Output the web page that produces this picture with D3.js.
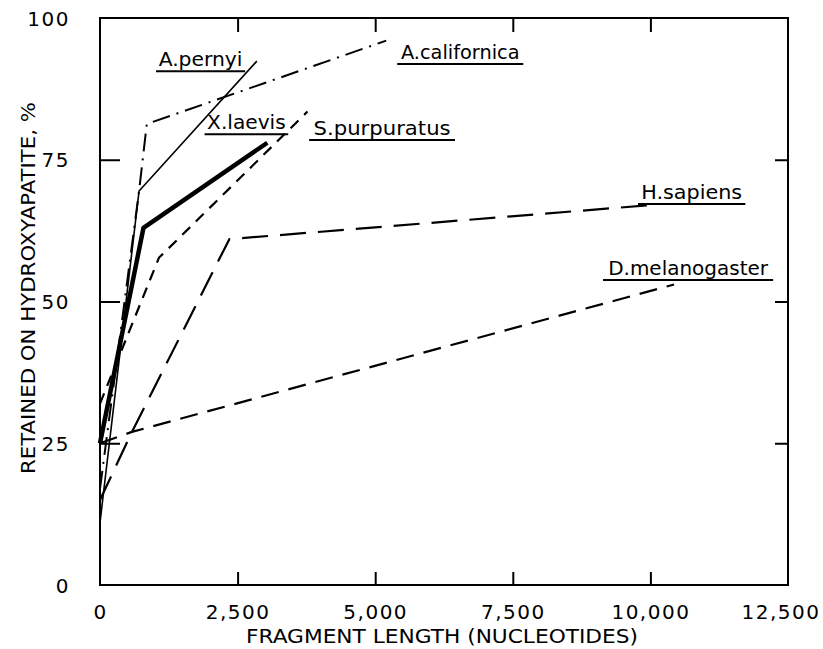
<!DOCTYPE html>
<html><head><meta charset="utf-8">
<script src="https://cdn.jsdelivr.net/npm/d3@7"></script>
<style>body{margin:0;background:#fff}svg{display:block}</style>
</head><body>
<script>
// ---- data ----
const seriesNames = ["A.pernyi","A.californica","X.laevis","S.purpuratus","H.sapiens","D.melanogaster"];
const aPernyi      = [[0,11],[710,69.5],[2850,92.4]];
const aCalifornica = [[0,17],[710,69.5],[850,81.3],[5200,96]];
const xLaevis      = [[0,25],[790,63],[3040,78]];
const sPurpuratus  = [[0,32],[1070,57.7],[3770,83.5]];
const hSapiens     = [[0,15],[580,27],[2350,61],[10000,67]];
const dMelanogaster= [[0,25],[580,27],[10430,53]];
const xTicks = [0,2500,5000,7500,10000,12500];
const xTickLabels = ["0","2,500","5,000","7,500","10,000","12,500"];
const yTicks = [0,25,50,75,100];
const yTickLabels = ["0","25","50","75","100"];
// label anchor in data coords (left end of underline) and underline length in data units
const labelPos = [[1017,90.6],[5400,91.9],[1900,79.5],[3800,78.5],[9775,67.2],[9140,53.8]];
const labelLen = [1620,2290,1520,2650,1950,3090];

const W=823,H=649;
const svg=d3.select("body").append("svg").attr("width",W).attr("height",H);
const x=d3.scaleLinear().domain([0,12500]).range([100,788]);
const y=d3.scaleLinear().domain([0,100]).range([585,18]);

const font="'DejaVu Sans', sans-serif";
// frame
svg.append("rect").attr("x",x(0)).attr("y",y(100)).attr("width",x(12500)-x(0)).attr("height",y(0)-y(100))
  .attr("fill","none").attr("stroke","#000").attr("stroke-width",2);

// axes
const axB=d3.axisBottom(x).tickValues(xTicks).tickSize(-13).tickFormat((d,i)=>xTickLabels[i]).tickPadding(20);
const gB=svg.append("g").attr("transform",`translate(0,${y(0)})`).call(axB);
const axT=d3.axisTop(x).tickValues(xTicks.slice(1,-1)).tickSize(-14).tickFormat("");
const gT=svg.append("g").attr("transform",`translate(0,${y(100)})`).call(axT);
const axL=d3.axisLeft(y).tickValues(yTicks).tickSize(-20).tickFormat((d,i)=>yTickLabels[i]).tickPadding(30);
const gL=svg.append("g").attr("transform",`translate(${x(0)},0)`).call(axL);
const axR=d3.axisRight(y).tickValues(yTicks.slice(1,-1)).tickSize(-13).tickFormat("");
const gR=svg.append("g").attr("transform",`translate(${x(12500)},0)`).call(axR);
[gB,gT,gL,gR].forEach(g=>{g.select(".domain").remove();
  g.selectAll(".tick line").attr("stroke","#000").attr("stroke-width",2);
  g.selectAll("text").attr("font-family",font).attr("font-size",20).attr("fill","#000").attr("letter-spacing","1.5px");});
gL.selectAll(".tick").filter(d=>d===0||d===100).select("line").remove();
gB.selectAll(".tick").filter(d=>d===0||d===12500).select("line").remove();
gB.selectAll(".tick").filter(d=>d===12500).select("text").attr("text-anchor","end").attr("x",32);
gL.selectAll("text").attr("dy","0.35em");

// axis titles
svg.append("text").attr("x",442).attr("y",643).attr("text-anchor","middle")
  .attr("font-family",font).attr("font-size",19).attr("textLength",392).attr("lengthAdjust","spacingAndGlyphs")
  .text("FRAGMENT LENGTH (NUCLEOTIDES)");
svg.append("text").attr("transform","translate(35,288) rotate(-90)").attr("text-anchor","middle")
  .attr("font-family",font).attr("font-size",19).attr("textLength",372).attr("lengthAdjust","spacingAndGlyphs")
  .text("RETAINED ON HYDROXYAPATITE, %");

// lines
const data=[aPernyi,aCalifornica,xLaevis,sPurpuratus,hSapiens,dMelanogaster];
const styles=[
  {w:1.6,dash:null},
  {w:2,dash:"18,7,2,7"},
  {w:4.5,dash:null},
  {w:2.2,dash:"11,8"},
  {w:2.2,dash:"26,12"},
  {w:2.2,dash:"18,10"}];
const line=d3.line().x(d=>x(d[0])).y(d=>y(d[1]));
data.forEach((s,i)=>{
  svg.append("path").datum(s).attr("d",line).attr("fill","none").attr("stroke","#000")
    .attr("stroke-width",styles[i].w).attr("stroke-dasharray",styles[i].dash).attr("stroke-linejoin","round");
});

// labels with underlines
seriesNames.forEach((n,i)=>{
  const lx=x(labelPos[i][0]), ly=y(labelPos[i][1]);
  const len=x(labelLen[i])-x(0);
  svg.append("line").attr("x1",lx).attr("x2",lx+len).attr("y1",ly).attr("y2",ly).attr("stroke","#000").attr("stroke-width",2);
  svg.append("text").attr("x",lx+len/2).attr("y",ly-5).attr("text-anchor","middle")
    .attr("font-family",font).attr("font-size",20).attr("textLength",len*0.94).attr("lengthAdjust","spacingAndGlyphs")
    .text(n);
});
</script>
</body></html>
